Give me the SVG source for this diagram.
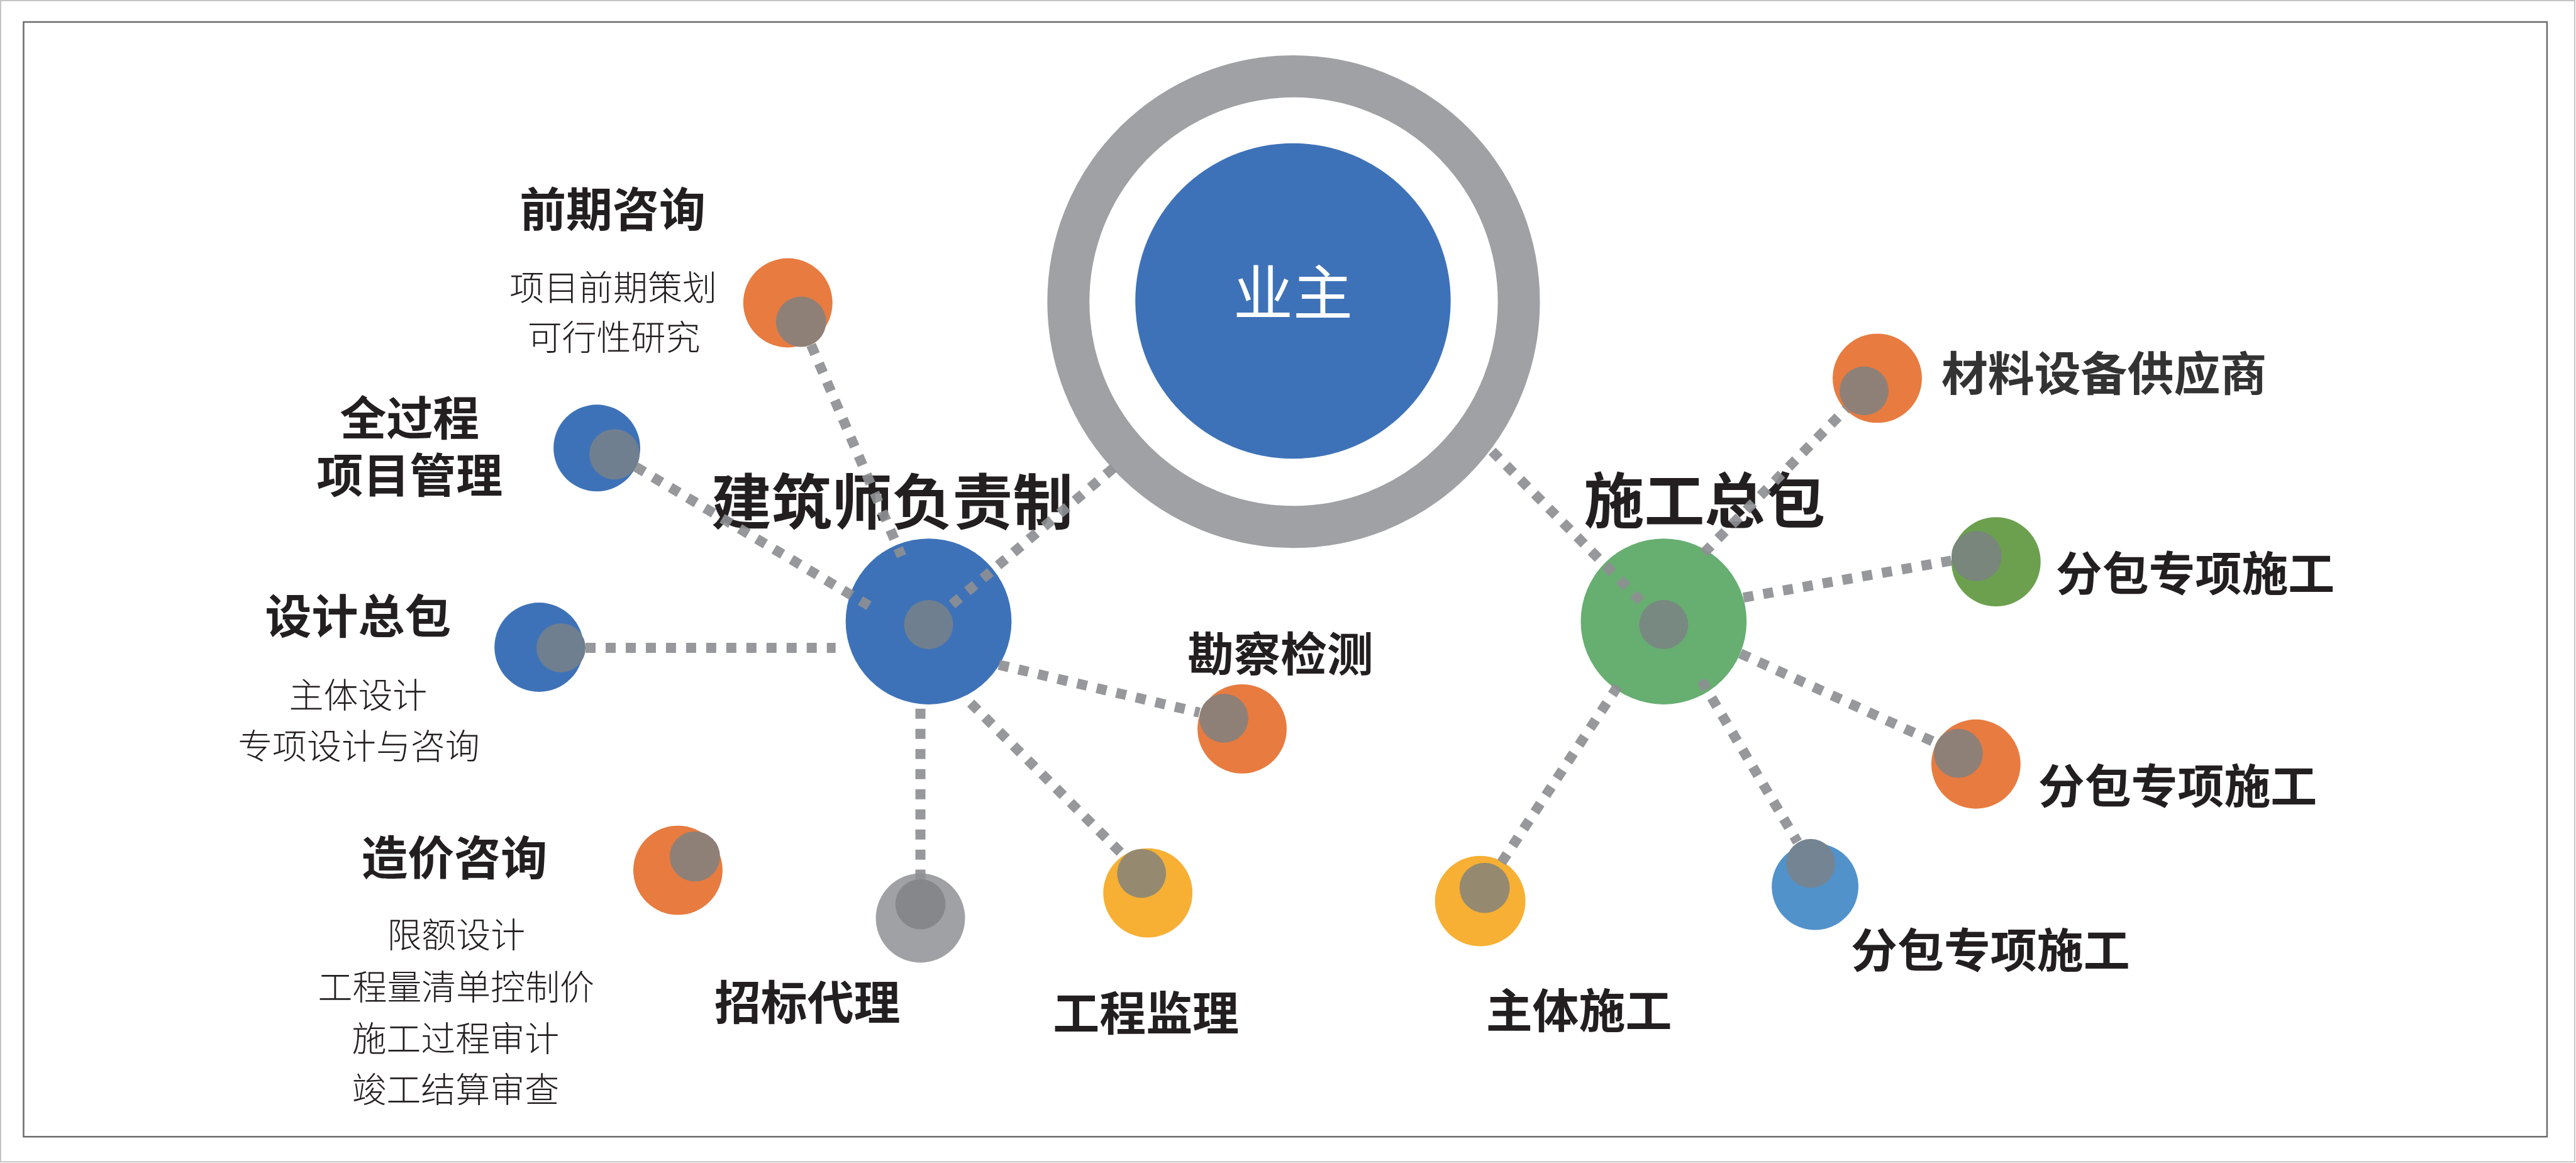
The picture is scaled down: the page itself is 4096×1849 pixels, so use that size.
<svg xmlns="http://www.w3.org/2000/svg" width="4096" height="1849" viewBox="0 0 4096 1849">
<style>
text{font-family:"Noto Sans CJK SC","Noto Sans",sans-serif;fill:#231f20;text-anchor:middle}
.t{font-weight:700;font-size:74px}
.h{font-weight:700;font-size:96px}
.s{font-weight:300;font-size:55px}
.own{font-weight:400;font-size:95px;fill:#ffffff}
.blue{fill:#3e72b8}
.orange{fill:#e87b40}
.yellow{fill:#f7b034}
.gray{fill:#a0a1a4}
.green{fill:#67ae71}
.dgreen{fill:#6ca04e}
.lblue{fill:#5292cb}
.ib{fill:#707f8f}
.io{fill:#8f8077}
.iy{fill:#958a70}
.ig{fill:#788981}
.idg{fill:#78867c}
.ilb{fill:#748492}
.igr{fill:#85878b}
.conn line{stroke:#8d8f93;stroke-width:16;stroke-dasharray:16 16;fill:none;opacity:0.92}
</style>
<g transform="scale(0.999)">
<rect x="1" y="1" width="4097" height="1848" fill="#ffffff" stroke="#c4c4c4" stroke-width="2"/>
<rect x="37.5" y="35" width="4016.5" height="1774" fill="none" stroke="#6b6b6b" stroke-width="2.5"/>

<g id="owner">
<circle cx="2059" cy="480" r="358.5" fill="#ffffff" stroke="#9fa1a4" stroke-width="67"/>
<circle cx="2058" cy="479" r="251" class="blue"/>
<text x="2058" y="502" class="own">业主</text>
</g>

<g id="hub-architect">
<circle cx="1478" cy="989" r="132" class="blue"/>
<circle cx="1478" cy="994" r="39" class="ib"/>
<text x="1420" y="834" class="h">建筑师负责制</text>
</g>

<g id="hub-contractor">
<circle cx="2648" cy="989" r="132" class="green"/>
<circle cx="2648" cy="994" r="39" class="ig"/>
<text x="2713" y="832" class="h">施工总包</text>
</g>

<g id="n-qianqi">
<circle cx="1254" cy="482" r="71" class="orange"/>
<circle cx="1275" cy="512" r="40" class="io"/>
<text x="975" y="360" class="t">前期咨询</text>
<text x="976" y="477" class="s">项目前期策划</text>
<text x="977" y="557" class="s">可行性研究</text>
</g>

<g id="n-quanguocheng">
<circle cx="950" cy="713" r="69" class="blue"/>
<circle cx="978" cy="723" r="40" class="ib"/>
<text class="t"><tspan x="652" y="693">全过程</tspan><tspan x="652" y="784">项目管理</tspan></text>
</g>

<g id="n-sheji">
<circle cx="858" cy="1030" r="71" class="blue"/>
<circle cx="893" cy="1031" r="39" class="ib"/>
<text x="570" y="1008" class="t">设计总包</text>
<text x="570" y="1126" class="s">主体设计</text>
<text x="571" y="1207" class="s">专项设计与咨询</text>
</g>

<g id="n-zaojia">
<circle cx="1079" cy="1385" r="71" class="orange"/>
<circle cx="1106" cy="1363" r="40" class="io"/>
<text x="723" y="1392" class="t">造价咨询</text>
<text x="726" y="1508" class="s">限额设计</text>
<text x="726" y="1591" class="s">工程量清单控制价</text>
<text x="725" y="1673" class="s">施工过程审计</text>
<text x="725" y="1754" class="s">竣工结算审查</text>
</g>

<g id="n-zhaobiao">
<circle cx="1465" cy="1461" r="71" class="gray"/>
<circle cx="1465" cy="1439" r="40" class="igr"/>
<text x="1285" y="1623" class="t">招标代理</text>
</g>

<g id="n-jianli">
<circle cx="1827" cy="1421" r="71" class="yellow"/>
<circle cx="1817" cy="1390" r="39" class="iy"/>
<text x="1824" y="1640" class="t">工程监理</text>
</g>

<g id="n-kancha">
<circle cx="1977" cy="1160" r="71" class="orange"/>
<circle cx="1948" cy="1143" r="39" class="io"/>
<text x="2038" y="1068" class="t">勘察检测</text>
</g>

<g id="n-cailiao">
<circle cx="2988" cy="602" r="71" class="orange"/>
<circle cx="2967" cy="622" r="39" class="io"/>
<text x="3090" y="622" class="t" style="text-anchor:start;fill:#333333">材料设备供应商</text>
</g>

<g id="n-fenbao1">
<circle cx="3177" cy="894" r="71" class="dgreen"/>
<circle cx="3146" cy="885" r="40" class="idg"/>
<text x="3494" y="940" class="t">分包专项施工</text>
</g>

<g id="n-fenbao2">
<circle cx="3145" cy="1216" r="71" class="orange"/>
<circle cx="3117" cy="1199" r="39" class="io"/>
<text x="3466" y="1278" class="t">分包专项施工</text>
</g>

<g id="n-fenbao3">
<circle cx="2889" cy="1411" r="69" class="lblue"/>
<circle cx="2882" cy="1374" r="39" class="ilb"/>
<text x="3168" y="1540" class="t">分包专项施工</text>
</g>

<g id="n-zhuti">
<circle cx="2356" cy="1434" r="72" class="yellow"/>
<circle cx="2363" cy="1413" r="40" class="iy"/>
<text x="2513" y="1636" class="t">主体施工</text>
</g>

<g id="connectors" class="conn">
<line x1="1772" y1="745" x2="1508" y2="968"/>
<line x1="2375" y1="718" x2="2620" y2="965"/>
<line x1="1291" y1="549" x2="1435" y2="885"/>
<line x1="1012" y1="743" x2="1390" y2="968"/>
<line x1="932" y1="1031" x2="1330" y2="1031"/>
<line x1="1465" y1="1128" x2="1465" y2="1399"/>
<line x1="1545" y1="1119" x2="1789" y2="1362"/>
<line x1="1590" y1="1058" x2="1909" y2="1134"/>
<line x1="2712" y1="880" x2="2939" y2="650"/>
<line x1="2775" y1="951" x2="3107" y2="892"/>
<line x1="2770" y1="1040" x2="3081" y2="1182"/>
<line x1="2708" y1="1083" x2="2861" y2="1340"/>
<line x1="2575" y1="1092" x2="2385" y2="1380"/>
</g>
</g>
</svg>
